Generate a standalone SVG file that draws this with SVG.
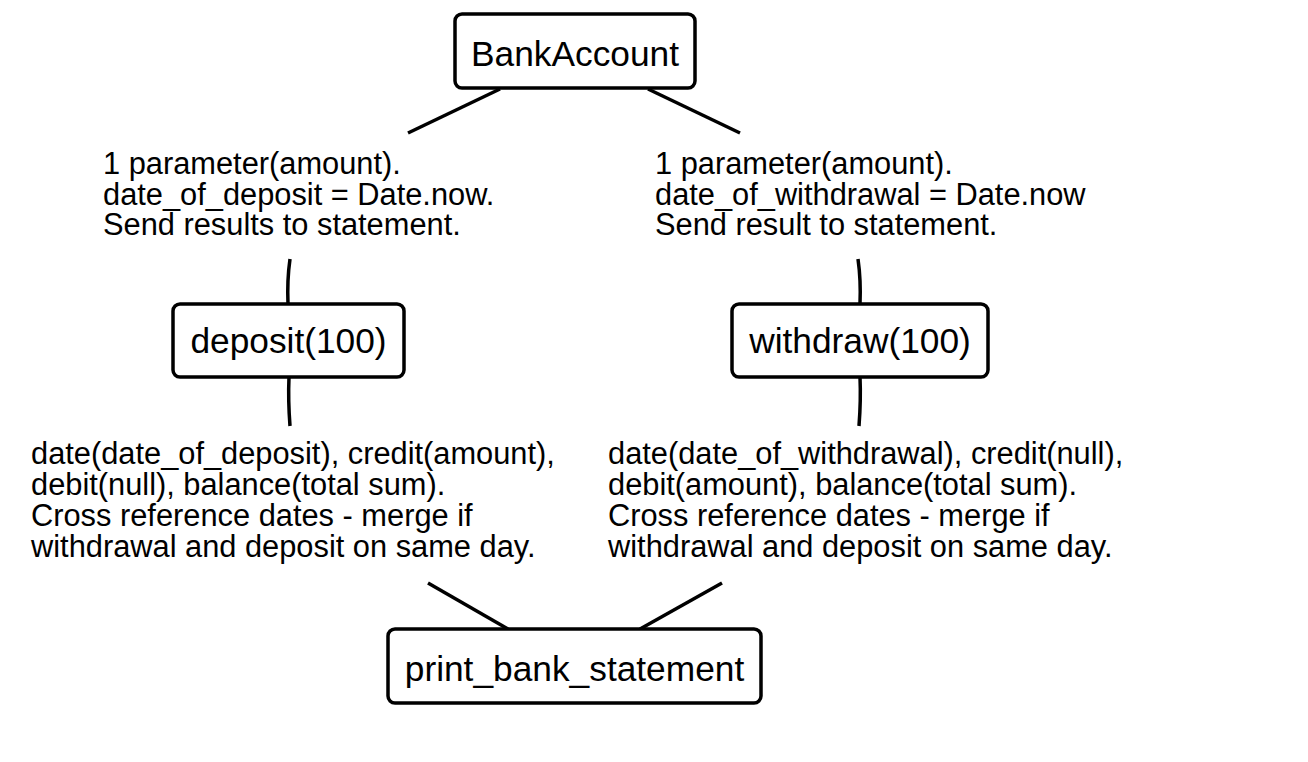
<svg xmlns="http://www.w3.org/2000/svg" width="1308" height="762" viewBox="0 0 1308 762">
<style>
.box{fill:#fff;stroke:#000;stroke-width:3.5}
.bt{font-family:"Liberation Sans",Arial,sans-serif;font-size:35.3px;fill:#000;text-anchor:middle}
.lt{font-family:"Liberation Sans",Arial,sans-serif;font-size:30.8px;fill:#000}
.edge{fill:none;stroke:#000;stroke-width:3.5}
</style>
<rect width="1308" height="762" fill="#fff"/>
<g id="connectors">
<path class="edge" d="M500,89 L408,133"/>
<path class="edge" d="M648,89 L740,133"/>
<path class="edge" d="M290,259 Q287,280 288,304"/>
<path class="edge" d="M289,377 Q288,400 290,426"/>
<path class="edge" d="M858,259 Q861,280 860,304"/>
<path class="edge" d="M860,377 Q861,400 859,426"/>
<path class="edge" d="M428,583 L508,629"/>
<path class="edge" d="M722,583 L640,629"/>
<text class="lt"><tspan x="103" y="174">1 parameter(amount).</tspan><tspan x="103" y="205">date_of_deposit = Date.now.</tspan><tspan x="103" y="235">Send results to statement.</tspan></text>
<text class="lt"><tspan x="655" y="174">1 parameter(amount).</tspan><tspan x="655" y="205">date_of_withdrawal = Date.now</tspan><tspan x="655" y="235">Send result to statement.</tspan></text>
<text class="lt"><tspan x="31" y="464">date(date_of_deposit), credit(amount),</tspan><tspan x="31" y="495">debit(null), balance(total sum).</tspan><tspan x="31" y="526">Cross reference dates - merge if</tspan><tspan x="31" y="557">withdrawal and deposit on same day.</tspan></text>
<text class="lt"><tspan x="608" y="464">date(date_of_withdrawal), credit(null),</tspan><tspan x="608" y="495">debit(amount), balance(total sum).</tspan><tspan x="608" y="526">Cross reference dates - merge if</tspan><tspan x="608" y="557">withdrawal and deposit on same day.</tspan></text>
</g>
<g id="bankaccount">
<rect class="box" x="455" y="14" width="240" height="74" rx="7"/>
<text class="bt" x="575" y="66">BankAccount</text>
</g>
<g id="deposit">
<rect class="box" x="173" y="304" width="231" height="73" rx="7"/>
<text class="bt" x="288.5" y="353">deposit(100)</text>
</g>
<g id="withdraw">
<rect class="box" x="732" y="304" width="256" height="73" rx="7"/>
<text class="bt" x="860" y="353">withdraw(100)</text>
</g>
<g id="print_bank_statement">
<rect class="box" x="388" y="629" width="373" height="74" rx="7"/>
<text class="bt" x="574.5" y="681">print_bank_statement</text>
</g>
</svg>
